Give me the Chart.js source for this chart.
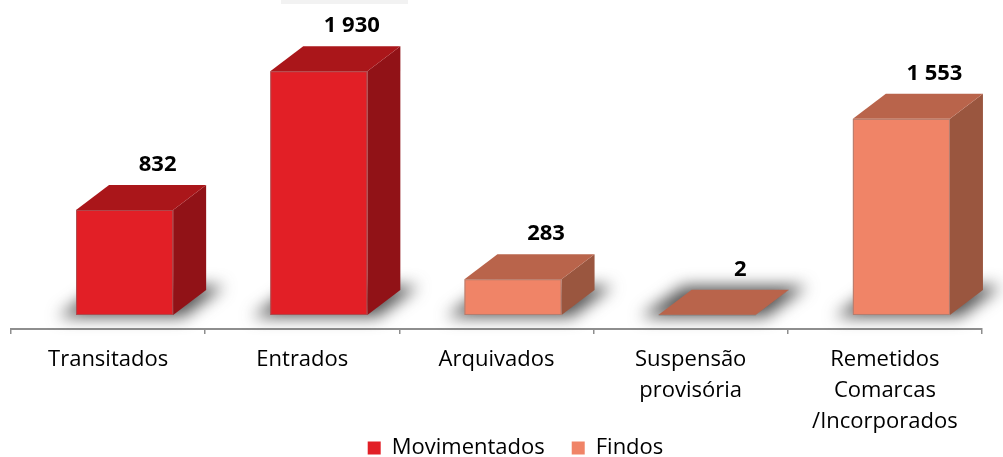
<!DOCTYPE html>
<html>
<head>
<meta charset="utf-8">
<script src="https://cdn.jsdelivr.net/npm/chart.js@4.4.1/dist/chart.umd.min.js"></script>
<style>
  html, body { margin: 0; padding: 0; background: #fff; overflow: hidden; }
  #wrap { position: relative; width: 1003px; height: 520px; }
</style>
</head>
<body>
<div id="wrap"><canvas id="chart"></canvas></div>
<script>
// dados do gráfico
const categories = [
  ["Transitados"],
  ["Entrados"],
  ["Arquivados"],
  ["Suspensão", "provisória"],
  ["Remetidos", "Comarcas", "/Incorporados"],
];
const seriesNames = ["Movimentados", "Findos"];
const movimentados = [832, 1930, null, null, null];
const findos = [null, null, 283, 2, 1553];

// cores das faces: frente, topo, lado
const faceColors = [
  { front: "#e21f26", top: "#aa161a", side: "#911217" },
  { front: "#f08467", top: "#b9644b", side: "#9a563f" },
];

const depthX = 33;
const depthY = 25;
const axisY = 329; // linha do eixo x

function fmt(v) {
  return String(v).replace(/\B(?=(\d{3})+(?!\d))/g, " ");
}

function poly(ctx, pts) {
  ctx.beginPath();
  ctx.moveTo(pts[0][0], pts[0][1]);
  for (let i = 1; i < pts.length; i++) ctx.lineTo(pts[i][0], pts[i][1]);
  ctx.closePath();
  ctx.fill();
}

const box3d = {
  id: "box3d",
  afterLayout(chart) {
    // legenda por baixo dos rótulos, ligeiramente à direita, como no original
    const lg = chart.legend;
    const h = lg.bottom - lg.top;
    lg.left += 19;
    lg.right += 19;
    lg.top = 410;
    lg.bottom = 410 + h;
  },
  beforeDatasetsDraw(chart) {
    const ctx = chart.ctx;
    const bars = [];

    chart.getSortedVisibleDatasetMetas().forEach((meta) => {
      const data = chart.data.datasets[meta.index].data;
      meta.data.forEach((el, i) => {
        if (data[i] == null) return;
        const p = el.getProps(["x", "y", "base", "width"], true);
        bars.push({
          x0: p.x - p.width / 2 + depthX / 2,
          x1: p.x + p.width / 2 + depthX / 2,
          top: p.y,
          base: p.base,
          c: faceColors[meta.index],
          v: data[i],
        });
      });
    });
    bars.sort((a, b) => a.x0 - b.x0);

    // faixa cinzenta no topo
    ctx.save();
    ctx.fillStyle = "#f2f2f2";
    ctx.fillRect(281, 0, 127, 4);
    ctx.restore();

    // sombras no chão
    bars.forEach((b) => {
      ctx.save();
      ctx.filter = "blur(8px)";
      ctx.fillStyle = "rgba(55,55,55,0.85)";
      poly(ctx, [
        [b.x0 - 18, b.base + 2],
        [b.x0 + depthX - 8, b.base - depthY - 4],
        [b.x1 + depthX + 18, b.base - depthY - 4],
        [b.x1 + 10, b.base + 2],
      ]);
      ctx.restore();
    });

    // caixas
    bars.forEach((b) => {
      ctx.save();
      ctx.fillStyle = b.c.side;
      poly(ctx, [
        [b.x1, b.top],
        [b.x1 + depthX, b.top - depthY],
        [b.x1 + depthX, b.base - depthY],
        [b.x1, b.base],
      ]);
      ctx.fillStyle = b.c.front;
      ctx.fillRect(b.x0, b.top, b.x1 - b.x0, b.base - b.top);
      ctx.strokeStyle = "rgba(120,120,120,0.5)";
      ctx.lineWidth = 1;
      ctx.strokeRect(b.x0 + 0.5, b.top + 0.5, b.x1 - b.x0 - 1, b.base - b.top - 1);
      ctx.fillStyle = b.c.top;
      poly(ctx, [
        [b.x0, b.top],
        [b.x0 + depthX, b.top - depthY],
        [b.x1 + depthX, b.top - depthY],
        [b.x1, b.top],
      ]);
      ctx.restore();
    });

    // rótulos de valor
    ctx.save();
    ctx.fillStyle = "#000";
    ctx.font = "bold 22px 'Open Sans'";
    ctx.textAlign = "center";
    ctx.textBaseline = "alphabetic";
    bars.forEach((b) => {
      ctx.fillText(fmt(b.v), (b.x0 + b.x1) / 2 + depthX, b.top - depthY - 14);
    });
    ctx.restore();

    return false;
  },
};

new Chart(document.getElementById("chart"), {
  type: "bar",
  data: {
    labels: categories,
    datasets: [
      {
        label: seriesNames[0],
        data: movimentados,
        backgroundColor: faceColors[0].front,
        borderWidth: 0,
      },
      {
        label: seriesNames[1],
        data: findos,
        backgroundColor: faceColors[1].front,
        borderWidth: 0,
      },
    ],
  },
  options: {
    responsive: true,
    maintainAspectRatio: false,
    animation: false,
    layout: { padding: { left: 11, right: 21, top: 0, bottom: 0 } },
    datasets: {
      bar: { grouped: false, barPercentage: 0.5, categoryPercentage: 1 },
    },
    scales: {
      x: {
        grid: {
          drawOnChartArea: false,
          offset: true,
          tickLength: 5,
          color: "#8e8e8e",
          lineWidth: 1.5,
        },
        border: { color: "#8e8e8e", width: 2 },
        ticks: {
          color: "#000",
          padding: 10,
          maxRotation: 0,
          autoSkip: false,
          font: { family: "'Open Sans'", size: 22, lineHeight: 1.41 },
        },
        afterFit(scale) {
          const lg = scale.chart.legend;
          scale.height = scale.chart.height - axisY - (lg ? lg.height : 0);
        },
      },
      y: { display: false, min: -111, max: 2494 },
    },
    plugins: {
      legend: {
        position: "bottom",
        labels: {
          boxWidth: 13,
          boxHeight: 13,
          padding: 27,
          color: "#000",
          font: { family: "'Open Sans'", size: 22 },
        },
      },
      tooltip: { enabled: false },
    },
  },
  plugins: [box3d],
});
</script>
</body>
</html>
